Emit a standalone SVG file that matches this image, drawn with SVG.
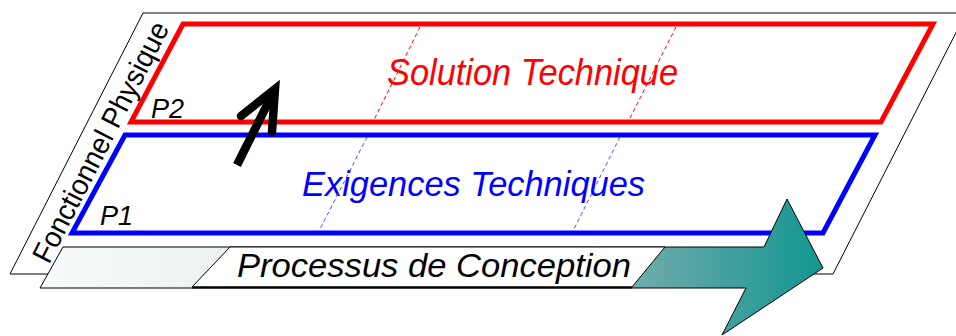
<svg xmlns="http://www.w3.org/2000/svg" width="956" height="336" viewBox="0 0 956 336">
<defs>
<style>
.lbl{font-family:"Liberation Sans",Arial,sans-serif;}
.it{font-style:italic;}
.plane{fill:none;stroke-width:5;stroke-linejoin:miter;}
.dash{fill:none;stroke-width:1;stroke-dasharray:4 3;}
</style>
<linearGradient id="bandGrad" x1="40" y1="0" x2="823" y2="0" gradientUnits="userSpaceOnUse">
<stop offset="0" stop-color="#f8fafb"/>
<stop offset="0.24" stop-color="#edf1f2"/>
<stop offset="0.5" stop-color="#b8d2d2"/>
<stop offset="0.8" stop-color="#62a7a7"/>
<stop offset="1" stop-color="#129690"/>
</linearGradient>
</defs>
<rect width="956" height="336" fill="#ffffff"/>
<g id="frame">
<polygon points="143,13 966,13 833,274 10,274" fill="#ffffff" stroke="#000000" stroke-width="1"/>
<text class="lbl" transform="translate(49,265) rotate(-63)" font-size="29" textLength="266" lengthAdjust="spacingAndGlyphs" fill="#000000">Fonctionnel Physique</text>
</g>
<g id="p2">
<polygon class="plane" points="183,24 933,24 881,122 131,122" stroke="#ff0000"/>
<text class="lbl it" x="151" y="118" font-size="27" fill="#000000">P2</text>
<text class="lbl it" x="387" y="85" font-size="36" textLength="291" lengthAdjust="spacingAndGlyphs" fill="#ff0000">Solution Technique</text>
</g>
<g id="p1">
<polygon class="plane" points="125,135 875,135 823,233 72,233" stroke="#0000ff"/>
<text class="lbl it" x="100" y="225" font-size="27" fill="#000000">P1</text>
<text class="lbl it" x="302" y="196" font-size="35" textLength="343" lengthAdjust="spacingAndGlyphs" fill="#0000ff">Exigences Techniques</text>
</g>
<g id="connectors">
<line class="dash" x1="420" y1="27" x2="374" y2="120" stroke="#ff0000"/>
<line class="dash" x1="676" y1="27" x2="629" y2="120" stroke="#ff0000"/>
<line class="dash" x1="367" y1="137" x2="319" y2="231" stroke="#5050ff"/>
<line class="dash" x1="620" y1="137" x2="573" y2="231" stroke="#5050ff"/>
<path d="M237,165 L275,89" fill="none" stroke="#000000" stroke-width="8.5" stroke-linecap="butt"/>
<path d="M241,116 L275,89 L272,132" fill="none" stroke="#000000" stroke-width="8.5" stroke-linejoin="miter" stroke-miterlimit="6" stroke-linecap="round"/>
</g>
<g id="process">
<polygon points="63,247 764,247 787,199 823,268 722,335 746,288 40,288" fill="url(#bandGrad)" stroke="#000000" stroke-width="1"/>
<polygon points="230,247 665,247 632,287 192,287" fill="#ffffff" stroke="#000000" stroke-width="1"/>
<line x1="192" y1="287.5" x2="632" y2="287.5" stroke="#000000" stroke-width="2"/>
<text class="lbl it" x="237" y="277" font-size="33" textLength="394" lengthAdjust="spacingAndGlyphs" fill="#000000">Processus de Conception</text>
</g>
</svg>
